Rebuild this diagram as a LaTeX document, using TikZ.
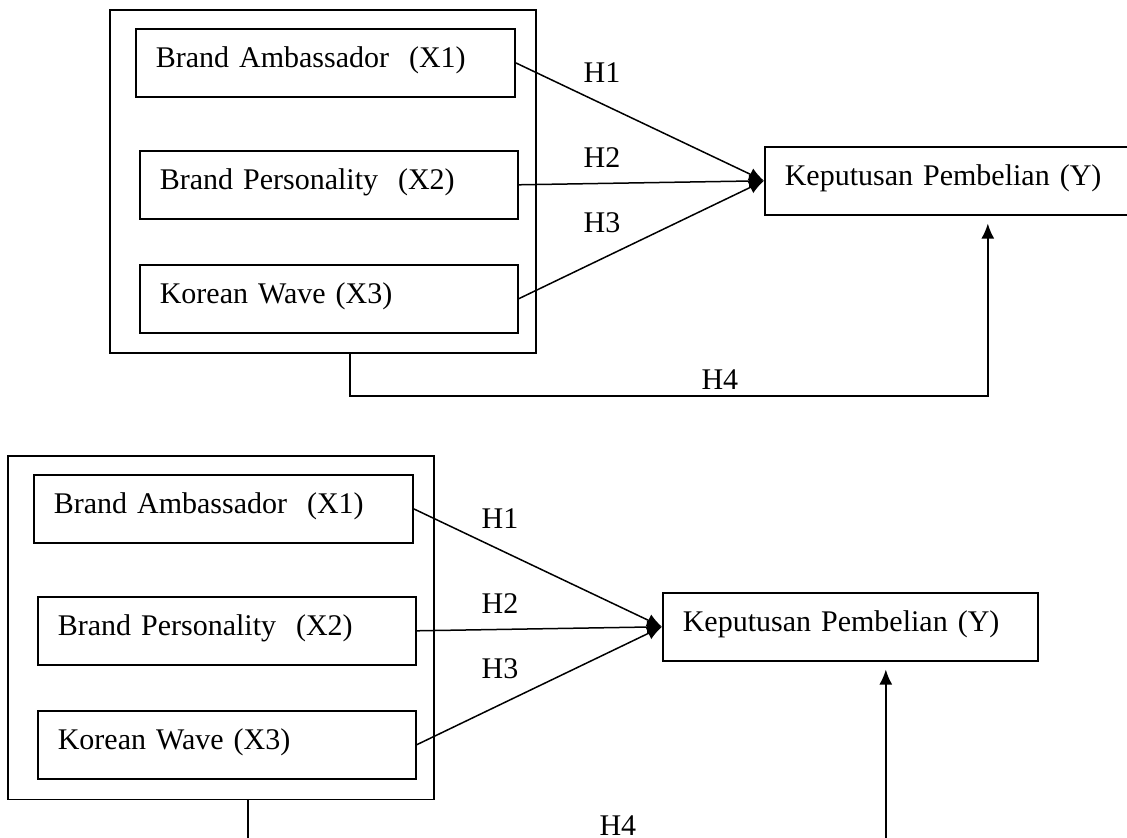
\documentclass[tikz,border=0pt]{standalone}
\usepackage{fontspec}
\setmainfont{Liberation Serif}
\usetikzlibrary{arrows.meta,positioning}

\begin{document}
\begin{tikzpicture}[
    x=0.5pt, y=-0.5pt,
    every node/.style={font=\fontsize{15}{18}\selectfont},
    group/.style={
        draw=black,
        line width=0.8pt,
        anchor=north west,
        inner sep=0pt,
        minimum width=213pt,
        minimum height=171.5pt
    },
    varbox/.style={
        draw=black,
        line width=0.8pt,
        anchor=north west,
        align=left,
        inner xsep=10pt,
        text width=#1,
        minimum height=34pt,
        text height=10pt,
        text depth=5pt
    },
    hyp/.style={inner sep=0pt},
    arrow/.style={
        -{Latex[length=7.5pt,width=6.5pt]},
        line width=0.75pt
    }
    ]
    \useasboundingbox (0,0) rectangle (1127,838);
    \clip (0,0) rectangle (1127,838);
    \foreach \s/\dx/\dy in {A/0/0,B/-102/446}{
    \begin{scope}[shift={(\dx,\dy)}]
        \node[group] (group\s) at (109,9.5) {};
        \node[varbox=169.5pt] (x1\s) at (135,28) {Brand Ambassador~~(X1)};
        \node[varbox=169pt] (x2\s) at (139,150) {Brand Personality~~(X2)};
        \node[varbox=169pt] (x3\s) at (139,264) {Korean Wave (X3)};
        \node[varbox=167.5pt] (key\s) at (764,146) {Keputusan Pembelian (Y)};
        
        \node[hyp] (h1\s) at (602,73) {H1};
        \node[hyp] (h2\s) at (602,158) {H2};
        \node[hyp] (h3\s) at (602,223) {H3};
        
        \draw[arrow] (x1\s.east) -- (key\s.west);
        \draw[arrow] (x2\s.east) -- (key\s.west);
        \draw[arrow] (x3\s.east) -- (key\s.west);
        \draw[arrow] ([xshift=13.5pt]group\s.south) -- ++(0,-21pt)
            -| node[hyp,above=3pt,pos=0.29] (h4\s) {H4}
            ([xshift=17.75pt,yshift=-4pt]key\s.south);
    \end{scope}
    }
\end{tikzpicture}
\end{document}
